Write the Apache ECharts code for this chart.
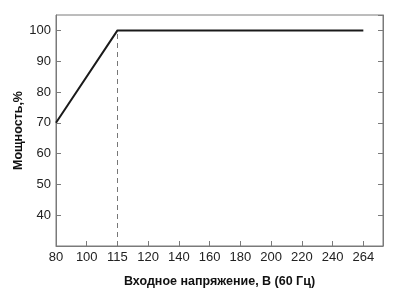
<!DOCTYPE html>
<html>
<head>
<meta charset="utf-8">
<script src="https://cdn.jsdelivr.net/npm/echarts@6/dist/echarts.min.js"></script>
<style>
  html, body { margin: 0; padding: 0; background: #fff; }
  #chart { width: 400px; height: 298px; }
</style>
</head>
<body>
<div id="chart"></div>
<script>
// подписи оси X (шаг неравномерный, как на исходном графике)
var xTicks = [80, 100, 115, 120, 140, 160, 180, 200, 220, 240, 264];
// точки кривой мощности
var voltage = [80, 115, 264];
var power = [70, 100, 100];
// порог, откуда идёт пунктир
var kneeVoltage = 115;
var kneePower = 100;

// напряжение -> позиция на оси (кусочно-линейно по подписям)
function pos(v) {
  for (var i = 0; i < xTicks.length - 1; i++) {
    if (v <= xTicks[i + 1]) {
      return i + (v - xTicks[i]) / (xTicks[i + 1] - xTicks[i]);
    }
  }
  return xTicks.length - 1;
}

var lineData = voltage.map(function (v, i) { return [pos(v), power[i]]; });

var font = "'Liberation Sans', Arial, sans-serif";
var axisGray = '#7a7a7a';

var myChart = echarts.init(document.getElementById('chart'));
var option = {
  animation: false,
  grid: {
    left: 56, top: 15, right: 17, bottom: 52,
    outerBoundsMode: 'none',
    show: true, borderColor: axisGray, borderWidth: 1
  },
  xAxis: {
    type: 'value',
    min: 0,
    max: 10.64,
    interval: 1,
    name: 'Входное напряжение, В (60 Гц)',
    nameLocation: 'middle',
    nameGap: 29,
    nameMoveOverlap: false,
    nameTextStyle: { fontFamily: font, fontSize: 12.5, fontWeight: 'bold', color: '#111' },
    axisLine: { lineStyle: { color: axisGray } },
    axisTick: { inside: true, length: 5, lineStyle: { color: axisGray } },
    splitLine: { show: false },
    axisLabel: {
      margin: 5,
      fontFamily: font, fontSize: 13, color: '#222',
      showMaxLabel: false,
      formatter: function (val) {
        return Number.isInteger(val) && xTicks[val] !== undefined ? String(xTicks[val]) : '';
      }
    }
  },
  yAxis: [{
    type: 'value',
    min: 30,
    max: 105,
    interval: 10,
    name: 'Мощность,%',
    nameLocation: 'middle',
    nameGap: 31,
    nameMoveOverlap: false,
    nameTextStyle: { fontFamily: font, fontSize: 12.5, fontWeight: 'bold', color: '#111' },
    axisLine: { show: true, lineStyle: { color: axisGray } },
    axisTick: { show: true, inside: true, length: 5, lineStyle: { color: axisGray } },
    splitLine: { show: false },
    axisLabel: {
      margin: 5,
      fontFamily: font, fontSize: 13, color: '#222',
      showMinLabel: false, showMaxLabel: false
    }
  }, {
    type: 'value',
    position: 'right',
    min: 30,
    max: 105,
    interval: 10,
    axisLine: { show: true, lineStyle: { color: axisGray } },
    axisTick: { show: true, inside: true, length: 5, lineStyle: { color: axisGray } },
    axisLabel: { show: false },
    splitLine: { show: false }
  }],
  series: [{
    type: 'line',
    data: lineData,
    symbol: 'none',
    lineStyle: { color: '#1a1a1a', width: 2 },
    markLine: {
      silent: true,
      symbol: 'none',
      label: { show: false },
      lineStyle: { color: '#777', width: 1, type: [5, 4] },
      data: [[
        { coord: [pos(kneeVoltage), 30] },
        { coord: [pos(kneeVoltage), kneePower] }
      ]]
    }
  }]
};
myChart.setOption(option);
</script>
</body>
</html>
